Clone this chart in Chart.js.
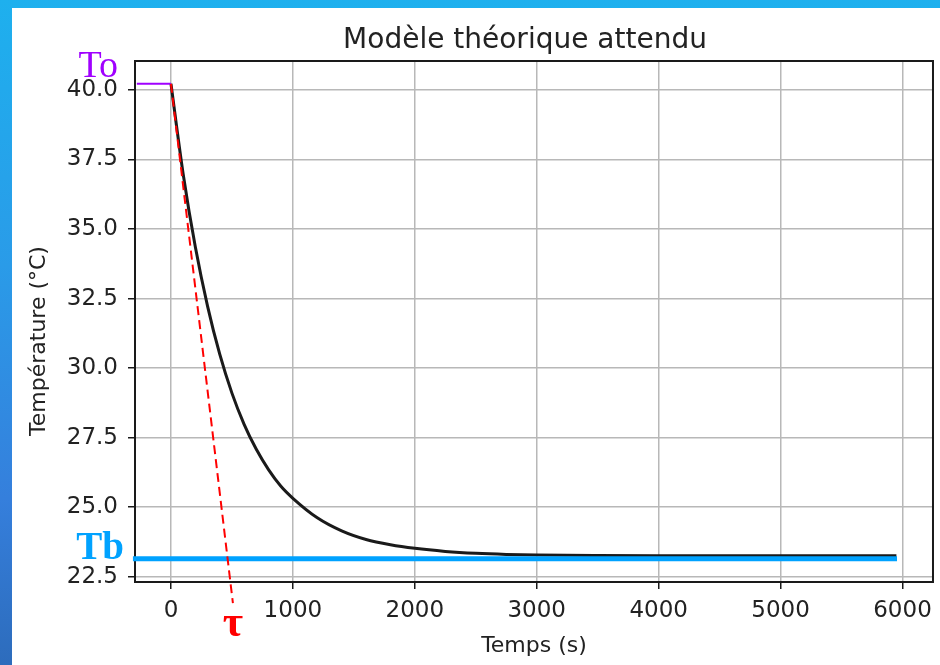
<!DOCTYPE html>
<html lang="fr">
<head>
    <meta charset="UTF-8">
    <title>Modèle théorique attendu</title>
    <script src="https://cdn.jsdelivr.net/npm/chart.js"></script>
    <style>
        html, body { margin: 0; padding: 0; }
        body {
            width: 940px; height: 665px; overflow: hidden; position: relative;
            background: linear-gradient(to bottom, #1eb0ee 0%, #2a9be8 40%, #357fdc 75%, #2d6cbc 100%);
        }
        .panel { position: absolute; left: 12px; top: 8px; width: 928px; height: 657px; background: #fff; }
    </style>
</head>
<body>
    <div class="panel">
        <canvas id="modelChart" width="928" height="657"></canvas>
    </div>

    <script>
        // courbe théorique
        const tempsCourbe = [0, 100, 200, 300, 400, 500, 600, 700, 800, 900, 1000, 1200, 1400, 1600, 1800, 2000, 2250, 2500, 2750, 3000, 3500, 4000, 4500, 5000, 5500, 5950];
        const tempCourbe = [40.22, 36.98, 34.35, 32.23, 30.5, 29.1, 27.98, 27.08, 26.35, 25.76, 25.32, 24.62, 24.15, 23.84, 23.65, 23.52, 23.41, 23.34, 23.3, 23.28, 23.26, 23.25, 23.25, 23.25, 23.25, 23.25];

        // annotations ajoutées : To, Tb et tangente à l'origine
        const tempsTo = [-280, 0];
        const valTo = [40.22, 40.22];
        const tempsTb = [-312, 5955];
        const valTb = [23.15, 23.15];
        const tempsTangente = [0, 508];
        const valTangente = [40.22, 21.55];

        const xTicks = [0, 1000, 2000, 3000, 4000, 5000, 6000];
        const yTicks = [22.5, 25.0, 27.5, 30.0, 32.5, 35.0, 37.5, 40.0];

        const toPoints = (xs, ys) => xs.map((x, i) => ({ x: x, y: ys[i] }));

        Chart.defaults.font.family = 'DejaVu Sans';
        Chart.defaults.color = '#222';

        const textPlugin = {
            id: 'textes',
            beforeDatasetsDraw(chart) {
                const { ctx, chartArea: a } = chart;
                ctx.save();
                ctx.strokeStyle = '#1a1a1a';
                ctx.lineWidth = 2;
                ctx.strokeRect(a.left, a.top, a.right - a.left, a.bottom - a.top);
                ctx.restore();
            },
            afterDraw(chart) {
                const { ctx, chartArea: a, scales } = chart;
                const x = scales.x, y = scales.y;
                ctx.save();
                ctx.fillStyle = '#222';
                ctx.textAlign = 'center';
                ctx.textBaseline = 'alphabetic';
                ctx.font = '28px "DejaVu Sans"';
                ctx.fillText('Modèle théorique attendu', 513, 40);

                ctx.font = '22px "DejaVu Sans"';
                ctx.fillText('Temps (s)', (a.left + a.right) / 2, 644);

                ctx.save();
                ctx.translate(33, 333);
                ctx.rotate(-Math.PI / 2);
                ctx.fillText('Température (°C)', 0, 0);
                ctx.restore();

                // To
                ctx.textAlign = 'right';
                ctx.fillStyle = '#a000ff';
                ctx.font = '38px "Liberation Serif"';
                ctx.fillText('To', a.left - 17, y.getPixelForValue(valTo[0]) - 7);

                // Tb
                ctx.fillStyle = '#00a2ff';
                ctx.font = 'bold 39px "Liberation Serif"';
                ctx.fillText('Tb', a.left - 11, y.getPixelForValue(valTb[0]));

                // tau
                ctx.textAlign = 'center';
                ctx.fillStyle = '#ff0000';
                ctx.font = 'bold 44px "Liberation Serif"';
                const n = tempsTangente.length - 1;
                ctx.fillText('τ', x.getPixelForValue(tempsTangente[n]), y.getPixelForValue(valTangente[n]) + 33);
                ctx.restore();
            }
        };

        const ctx = document.getElementById('modelChart').getContext('2d');
        const modelChart = new Chart(ctx, {
            type: 'line',
            data: {
                datasets: [
                    {
                        label: 'tangente',
                        data: toPoints(tempsTangente, valTangente),
                        borderColor: '#ff0000',
                        borderWidth: 2,
                        borderDash: [9, 5],
                        pointRadius: 0,
                        clip: false
                    },
                    {
                        label: 'Tb',
                        data: toPoints(tempsTb, valTb),
                        borderColor: '#00a2ff',
                        borderWidth: 5,
                        pointRadius: 0,
                        clip: false
                    },
                    {
                        label: 'To',
                        data: toPoints(tempsTo, valTo),
                        borderColor: '#a000ff',
                        borderWidth: 2,
                        pointRadius: 0,
                        clip: false
                    },
                    {
                        label: 'Température',
                        data: toPoints(tempsCourbe, tempCourbe),
                        borderColor: '#1a1a1a',
                        borderWidth: 3,
                        pointRadius: 0,
                        cubicInterpolationMode: 'monotone'
                    }
                ]
            },
            options: {
                responsive: false,
                animation: false,
                devicePixelRatio: 1,
                layout: { padding: { top: 53, right: 6, left: 0, bottom: 0 } },
                plugins: {
                    legend: { display: false },
                    tooltip: { enabled: false }
                },
                scales: {
                    x: {
                        type: 'linear',
                        min: -295,
                        max: 6250,
                        afterFit: (s) => { s.height = 83; },
                        afterBuildTicks: (s) => { s.ticks = xTicks.map(v => ({ value: v })); },
                        border: { display: false },
                        grid: { color: '#b8b8b8', lineWidth: 1.5, tickColor: '#1a1a1a', tickLength: 7 },
                        ticks: { font: { size: 23 }, color: '#222', padding: 8, maxRotation: 0, callback: v => String(v) }
                    },
                    y: {
                        type: 'linear',
                        min: 22.31,
                        max: 41.04,
                        afterFit: (s) => { s.width = 123; },
                        afterBuildTicks: (s) => { s.ticks = yTicks.map(v => ({ value: v })); },
                        border: { display: false },
                        grid: { color: '#b8b8b8', lineWidth: 1.5, tickColor: '#1a1a1a', tickLength: 7 },
                        ticks: { font: { size: 23 }, color: '#222', padding: 10, callback: v => v.toFixed(1) }
                    }
                }
            },
            plugins: [textPlugin]
        });
    </script>
</body>
</html>
